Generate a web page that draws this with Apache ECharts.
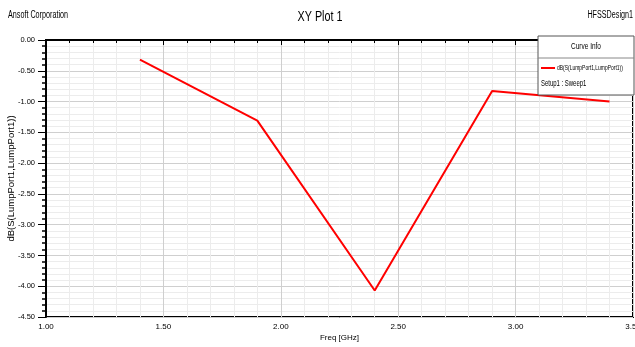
<!DOCTYPE html>
<html>
<head>
<meta charset="utf-8">
<script src="https://cdn.jsdelivr.net/npm/echarts@6/dist/echarts.min.js"></script>
<style>
  html, body { margin: 0; padding: 0; background: #fff; }
  #chart { width: 635px; height: 347px; }
</style>
</head>
<body>
<div id="chart"></div>
<script>
// frequency sweep points (GHz) and S11 in dB
const freqGHz = [1.4, 1.9, 2.4, 2.9, 3.4]
const s11dB = [-0.32, -1.31, -4.07, -0.83, -1.0]
const seriesName = 'dB(S(LumpPort1,LumpPort1))'
const setupName = 'Setup1 : Sweep1'

const font = '"Liberation Sans", Arial, sans-serif'

// narrow-looking text (the original uses a condensed face)
function narrowText(text, x, y, size, align, sx) {
  return {
    type: 'text', z: 20, x, y, scaleX: sx || 0.72, scaleY: 1,
    style: { text, fontSize: size, fill: '#000', fontFamily: font, align: align || 'left', verticalAlign: 'middle' },
  }
}

const chart = echarts.init(document.getElementById('chart'))

chart.setOption({
  backgroundColor: '#fff',
  animation: false,
  textStyle: { fontFamily: font },
  grid: {
    left: 46, right: 2, top: 40, bottom: 30,
    outerBoundsMode: 'none',
    containLabel: false,
    show: true, borderColor: '#000', borderWidth: 2,
  },
  xAxis: {
    type: 'value',
    min: 1, max: 3.5, interval: 0.5,
    name: 'Freq [GHz]',
    nameLocation: 'middle',
    nameGap: 17,
    nameMoveOverlap: false,
    nameTextStyle: { fontSize: 8, color: '#000' },
    axisLine: { lineStyle: { color: '#000', width: 2 } },
    axisTick: { show: true, length: 5, lineStyle: { color: '#000' } },
    minorTick: { show: true, splitNumber: 5, length: 3, lineStyle: { color: '#000' } },
    axisLabel: { fontSize: 8, color: '#000', margin: 6, formatter: v => v.toFixed(2) },
    splitLine: { show: true, lineStyle: { color: '#cfcfcf', width: 1 } },
    minorSplitLine: { show: true, lineStyle: { color: '#ececec', width: 1 } },
  },
  yAxis: {
    type: 'value',
    min: -4.5, max: 0, interval: 0.5,
    name: seriesName,
    nameLocation: 'middle',
    nameGap: 30,
    nameMoveOverlap: false,
    nameTextStyle: { fontSize: 9.5, color: '#000' },
    axisLine: { lineStyle: { color: '#000', width: 2 } },
    axisTick: { show: true, length: 8, lineStyle: { color: '#000' } },
    minorTick: { show: true, splitNumber: 5, length: 4, lineStyle: { color: '#000', width: 1.5 } },
    axisLabel: { fontSize: 7.5, color: '#000', margin: 11, formatter: v => v.toFixed(2) },
    splitLine: { show: true, lineStyle: { color: '#cfcfcf', width: 1 } },
    minorSplitLine: { show: true, lineStyle: { color: '#ececec', width: 1 } },
  },
  legend: {
    data: [seriesName],
    left: 541, top: 67, z: 15,
    itemWidth: 14, itemHeight: 2,
    icon: 'rect',
    formatter: () => '',
    padding: 0,
  },
  graphic: [
    { type: 'rect', z: 10, shape: { x: 538, y: 36, width: 96, height: 59 }, style: { fill: '#fff', stroke: '#555', lineWidth: 1 } },
    { type: 'line', z: 11, shape: { x1: 538, y1: 58, x2: 634, y2: 58 }, style: { stroke: '#888', lineWidth: 1 } },
    narrowText('Curve Info', 586, 47, 9, 'center'),
    narrowText(seriesName, 557, 68, 8, 'left', 0.62),
    narrowText(setupName, 541, 84, 8.5, 'left', 0.7),
    narrowText('XY Plot 1', 320, 17, 15, 'center'),
    narrowText('Ansoft Corporation', 8, 15, 10, 'left'),
    narrowText('HFSSDesign1', 633, 15, 10, 'right'),
  ],
  series: [{
    name: seriesName,
    type: 'line',
    data: freqGHz.map((f, i) => [f, s11dB[i]]),
    symbol: 'none',
    lineStyle: { color: '#ff0000', width: 2 },
    itemStyle: { color: '#ff0000' },
    z: 5,
  }],
})
</script>
</body>
</html>
